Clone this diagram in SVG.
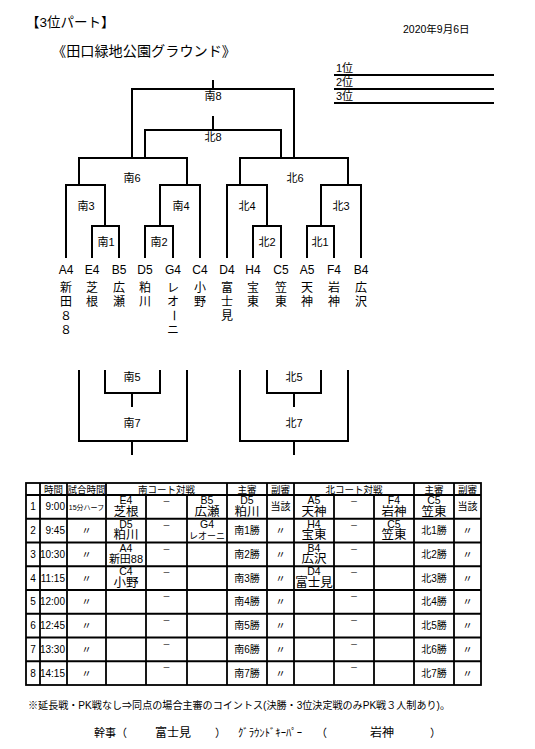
<svg xmlns="http://www.w3.org/2000/svg" width="535" height="749" viewBox="0 0 535 749">
<style>
text{font-family:"Liberation Sans","Noto Sans CJK JP",sans-serif;fill:#000}
.ln{stroke:#000;stroke-width:2;fill:none;stroke-linejoin:miter}
.gl{stroke:#000;stroke-width:1.8;fill:none}
.lbl{font-size:11px;text-anchor:middle}
.code{font-size:12px;text-anchor:middle}
.nm{font-size:12px;text-anchor:middle}
.th{font-size:9.5px;text-anchor:middle}
.td{font-size:10px;text-anchor:middle}
.tc{font-size:10.5px;text-anchor:middle}
.tn{font-size:12.5px;text-anchor:middle}
.ds{font-size:8px;text-anchor:middle}
.tm{font-size:10px;text-anchor:end}
.rk{font-size:11px}
</style>
<rect width="535" height="749" fill="#fff"/>
<g id="title">
<text x="26" y="27" font-size="13.5">【3位パート】</text>
<text x="403" y="33" font-size="10.5">2020年9月6日</text>
<text x="52" y="56" font-size="14" textLength="184" lengthAdjust="spacingAndGlyphs">《田口緑地公園グラウンド》</text>
</g>
<g id="ranking">
<path class="ln" d="M334,75H494M334,89H494M334,103H494"/>
<text class="rk" x="336" y="72">1位</text>
<text class="rk" x="336" y="86">2位</text>
<text class="rk" x="336" y="100">3位</text>
</g>
<g id="connectors">
<path class="ln" d="M213,80V89M132,158V89H294V158"/>
<path class="ln" d="M213,116V130M145,158V130H281V158"/>
<path class="ln" d="M79,185V158H187V185"/>
<path class="ln" d="M240,185V158H348V185"/>
<path class="ln" d="M66,258V185H105V226"/>
<path class="ln" d="M92,258V226H119V258"/>
<path class="ln" d="M160,226V185H200V258"/>
<path class="ln" d="M145,258V226H173V258"/>
<path class="ln" d="M227,258V185H267V226"/>
<path class="ln" d="M253,258V226H281V258"/>
<path class="ln" d="M321,226V185H361V258"/>
<path class="ln" d="M307,258V226H334V258"/>
<path class="ln" d="M105,370V393H160V370M132,393V407"/>
<path class="ln" d="M79,370V441H187V370M132,441V455"/>
<path class="ln" d="M267,370V393H321V370M294,393V407"/>
<path class="ln" d="M240,370V441H348V370M294,441V455"/>
</g>
<g id="match-labels">
<g id="m-s8"><text class="lbl" x="213" y="100">南8</text></g>
<g id="m-n8"><text class="lbl" x="213" y="141">北8</text></g>
<g id="m-s6"><text class="lbl" x="132" y="182">南6</text></g>
<g id="m-n6"><text class="lbl" x="295" y="182">北6</text></g>
<g id="m-s3"><text class="lbl" x="86" y="210">南3</text></g>
<g id="m-s4"><text class="lbl" x="181" y="210">南4</text></g>
<g id="m-n4"><text class="lbl" x="247" y="210">北4</text></g>
<g id="m-n3"><text class="lbl" x="341" y="210">北3</text></g>
<g id="m-s1"><text class="lbl" x="106" y="246">南1</text></g>
<g id="m-s2"><text class="lbl" x="159" y="246">南2</text></g>
<g id="m-n2"><text class="lbl" x="267" y="246">北2</text></g>
<g id="m-n1"><text class="lbl" x="320" y="246">北1</text></g>
<g id="m-s5"><text class="lbl" x="132" y="381">南5</text></g>
<g id="m-s7"><text class="lbl" x="132" y="427">南7</text></g>
<g id="m-n5"><text class="lbl" x="294" y="381">北5</text></g>
<g id="m-n7"><text class="lbl" x="294" y="427">北7</text></g>
</g>
<g id="teams">
<g id="t-a4"><text class="code" x="66" y="274">A4</text><text class="nm" x="66" y="292">新</text><text class="nm" x="66" y="306">田</text><text class="nm" x="66" y="320">８</text><text class="nm" x="66" y="334">８</text></g>
<g id="t-e4"><text class="code" x="92" y="274">E4</text><text class="nm" x="92" y="292">芝</text><text class="nm" x="92" y="306">根</text></g>
<g id="t-b5"><text class="code" x="119" y="274">B5</text><text class="nm" x="119" y="292">広</text><text class="nm" x="119" y="306">瀬</text></g>
<g id="t-d5"><text class="code" x="145" y="274">D5</text><text class="nm" x="145" y="292">粕</text><text class="nm" x="145" y="306">川</text></g>
<g id="t-g4"><text class="code" x="173" y="274">G4</text><text class="nm" x="173" y="292">レ</text><text class="nm" x="173" y="306">オ</text><text class="nm" x="173" y="320" transform="rotate(90 173 315.5)">ー</text><text class="nm" x="173" y="334">ニ</text></g>
<g id="t-c4"><text class="code" x="200" y="274">C4</text><text class="nm" x="200" y="292">小</text><text class="nm" x="200" y="306">野</text></g>
<g id="t-d4"><text class="code" x="227" y="274">D4</text><text class="nm" x="227" y="292">富</text><text class="nm" x="227" y="306">士</text><text class="nm" x="227" y="320">見</text></g>
<g id="t-h4"><text class="code" x="253" y="274">H4</text><text class="nm" x="253" y="292">宝</text><text class="nm" x="253" y="306">東</text></g>
<g id="t-c5"><text class="code" x="281" y="274">C5</text><text class="nm" x="281" y="292">笠</text><text class="nm" x="281" y="306">東</text></g>
<g id="t-a5"><text class="code" x="307" y="274">A5</text><text class="nm" x="307" y="292">天</text><text class="nm" x="307" y="306">神</text></g>
<g id="t-f4"><text class="code" x="334" y="274">F4</text><text class="nm" x="334" y="292">岩</text><text class="nm" x="334" y="306">神</text></g>
<g id="t-b4"><text class="code" x="361" y="274">B4</text><text class="nm" x="361" y="292">広</text><text class="nm" x="361" y="306">沢</text></g>
</g>
<g id="schedule-table">
<g id="table-text">
<text class="th" x="53.5" y="492.5">時間</text>
<text class="th" x="86.5" y="492.5">試合時間</text>
<text class="th" x="166.5" y="492.5">南コート対戦</text>
<text class="th" x="247" y="492.5">主審</text>
<text class="th" x="280.5" y="492.5">副審</text>
<text class="th" x="354" y="492.5">北コート対戦</text>
<text class="th" x="434" y="492.5">主審</text>
<text class="th" x="467.5" y="492.5">副審</text>

<text class="td" x="33" y="510.4">1</text><text class="tm" x="65" y="510.4">9:00</text>
<text x="86.5" y="509.5" font-size="7" text-anchor="middle">15分ハーフ</text>
<text class="tc" x="126" y="504">E4</text><text class="tn" x="126" y="515.5">芝根</text>
<text class="ds" x="166.5" y="504">－</text>
<text class="tc" x="207" y="504">B5</text><text class="tn" x="207" y="515.5">広瀬</text>
<text class="tc" x="247" y="504">D5</text><text class="tn" x="247" y="515.5">粕川</text>
<text class="td" x="280.5" y="510.4">当該</text>
<text class="tc" x="314" y="504">A5</text><text class="tn" x="314" y="515.5">天神</text>
<text class="ds" x="354" y="504">－</text>
<text class="tc" x="394" y="504">F4</text><text class="tn" x="394" y="515.5">岩神</text>
<text class="tc" x="434" y="504">C5</text><text class="tn" x="434" y="515.5">笠東</text>
<text class="td" x="467.5" y="510.4">当該</text>

<text class="td" x="33" y="534.1">2</text><text class="tm" x="65" y="534.1">9:45</text>
<text class="td" x="86.5" y="534.1">〃</text>
<text class="tc" x="126" y="527.8">D5</text><text class="tn" x="126" y="539.3">粕川</text>
<text class="ds" x="166.5" y="527.8">－</text>
<text class="tc" x="207" y="527.8">G4</text><text x="207" y="538.5" font-size="9" text-anchor="middle">レオーニ</text>
<text class="td" x="247" y="534.1">南1勝</text>
<text class="td" x="280.5" y="534.1">〃</text>
<text class="tc" x="314" y="527.8">H4</text><text class="tn" x="314" y="539.3">宝東</text>
<text class="ds" x="354" y="527.8">－</text>
<text class="tc" x="394" y="527.8">C5</text><text class="tn" x="394" y="539.3">笠東</text>
<text class="td" x="434" y="534.1">北1勝</text>
<text class="td" x="467.5" y="534.1">〃</text>

<text class="td" x="33" y="557.9">3</text><text class="tm" x="65" y="557.9">10:30</text>
<text class="td" x="86.5" y="557.9">〃</text>
<text class="tc" x="126" y="551.5">A4</text><text x="126" y="562.8" font-size="11" text-anchor="middle">新田88</text>
<text class="ds" x="166.5" y="551.5">－</text>
<text class="td" x="247" y="557.9">南2勝</text>
<text class="td" x="280.5" y="557.9">〃</text>
<text class="tc" x="314" y="551.5">B4</text><text class="tn" x="314" y="563">広沢</text>
<text class="ds" x="354" y="551.5">－</text>
<text class="td" x="434" y="557.9">北2勝</text>
<text class="td" x="467.5" y="557.9">〃</text>

<text class="td" x="33" y="581.6">4</text><text class="tm" x="65" y="581.6">11:15</text>
<text class="td" x="86.5" y="581.6">〃</text>
<text class="tc" x="126" y="575.3">C4</text><text class="tn" x="126" y="586.8">小野</text>
<text class="ds" x="166.5" y="575.3">－</text>
<text class="td" x="247" y="581.6">南3勝</text>
<text class="td" x="280.5" y="581.6">〃</text>
<text class="tc" x="314" y="575.3">D4</text><text class="tn" x="314" y="586.8">富士見</text>
<text class="ds" x="354" y="575.3">－</text>
<text class="td" x="434" y="581.6">北3勝</text>
<text class="td" x="467.5" y="581.6">〃</text>

<text class="td" x="33" y="605.4">5</text><text class="tm" x="65" y="605.4">12:00</text>
<text class="td" x="86.5" y="605.4">〃</text>
<text class="ds" x="166.5" y="599">－</text>
<text class="td" x="247" y="605.4">南4勝</text>
<text class="td" x="280.5" y="605.4">〃</text>
<text class="ds" x="354" y="599">－</text>
<text class="td" x="434" y="605.4">北4勝</text>
<text class="td" x="467.5" y="605.4">〃</text>

<text class="td" x="33" y="629.1">6</text><text class="tm" x="65" y="629.1">12:45</text>
<text class="td" x="86.5" y="629.1">〃</text>
<text class="ds" x="166.5" y="622.8">－</text>
<text class="td" x="247" y="629.1">南5勝</text>
<text class="td" x="280.5" y="629.1">〃</text>
<text class="ds" x="354" y="622.8">－</text>
<text class="td" x="434" y="629.1">北5勝</text>
<text class="td" x="467.5" y="629.1">〃</text>

<text class="td" x="33" y="652.9">7</text><text class="tm" x="65" y="652.9">13:30</text>
<text class="td" x="86.5" y="652.9">〃</text>
<text class="ds" x="166.5" y="646.5">－</text>
<text class="td" x="247" y="652.9">南6勝</text>
<text class="td" x="280.5" y="652.9">〃</text>
<text class="ds" x="354" y="646.5">－</text>
<text class="td" x="434" y="652.9">北6勝</text>
<text class="td" x="467.5" y="652.9">〃</text>

<text class="td" x="33" y="676.6">8</text><text class="tm" x="65" y="676.6">14:15</text>
<text class="td" x="86.5" y="676.6">〃</text>
<text class="ds" x="166.5" y="670.3">－</text>
<text class="td" x="247" y="676.6">南7勝</text>
<text class="td" x="280.5" y="676.6">〃</text>
<text class="ds" x="354" y="670.3">－</text>
<text class="td" x="434" y="676.6">北7勝</text>
<text class="td" x="467.5" y="676.6">〃</text>
</g>
<g id="table-grid">
<rect class="gl" x="26" y="483" width="455" height="202"/>
<path class="gl" d="M26,495H481M26,518.75H481M26,542.5H481M26,566.25H481M26,590H481M26,613.75H481M26,637.5H481M26,661.25H481"/>
<path class="gl" d="M40,483V685M67,483V685M106,483V685M227,483V685M267,483V685M294,483V685M414,483V685M454,483V685"/>
<path class="gl" d="M146,495V685M187,495V685M334,495V685M374,495V685"/>
</g>
</g>
<g id="footer">
<text x="28" y="709" font-size="10" textLength="422" lengthAdjust="spacingAndGlyphs">※延長戦・PK戦なし⇒同点の場合主審のコイントス(決勝・3位決定戦のみPK戦３人制あり)。</text>
<text x="94" y="737" font-size="11">幹事（</text>
<text x="155" y="737" font-size="12">富士見</text>
<text x="215" y="737" font-size="11">）</text>
<text x="238" y="737" font-size="11" textLength="64" lengthAdjust="spacingAndGlyphs">ｸﾞﾗｳﾝﾄﾞｷｰﾊﾟｰ</text>
<text x="316" y="737" font-size="11">（</text>
<text x="370" y="737" font-size="12">岩神</text>
<text x="430" y="737" font-size="11">）</text>
</g>
</svg>
